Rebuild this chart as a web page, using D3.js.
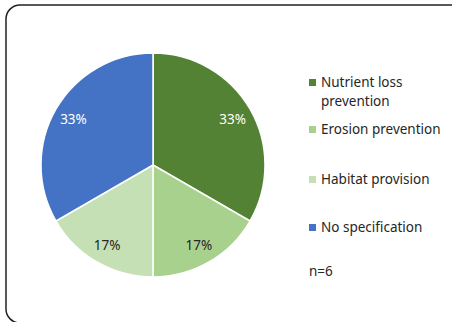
<!DOCTYPE html>
<html><head><meta charset="utf-8">
<script src="https://cdn.jsdelivr.net/npm/d3@7"></script>
<style>body{margin:0;background:#fff;}svg{display:block;}</style>
</head><body>
<script>
const categories = ["Nutrient loss prevention", "Erosion prevention", "Habitat provision", "No specification"];
const values = [2, 1, 1, 2];
const labels = ["33%", "17%", "17%", "33%"];
const colors = ["#548235", "#A9D18E", "#C5E0B4", "#4472C4"];
const labelColors = ["#ffffff", "#262626", "#262626", "#ffffff"];
const legendLines = [["Nutrient loss", "prevention"], ["Erosion prevention"], ["Habitat provision"], ["No specification"]];
const note = "n=6";

const W = 452, H = 322;
const svg = d3.select("body").append("svg").attr("width", W).attr("height", H);
svg.append("rect").attr("x", 6).attr("y", 5).attr("width", 460).attr("height", 318)
  .attr("rx", 14).attr("fill", "#fff").attr("stroke", "#222").attr("stroke-width", 1.5);

const cx = 153, cy = 165, R = 112;
const pie = d3.pie().sort(null).value(d => d);
const arcs = pie(values);
const arc = d3.arc().innerRadius(0).outerRadius(R);
const labelArc = d3.arc().innerRadius(R * 0.82).outerRadius(R * 0.82);
const g = svg.append("g").attr("transform", `translate(${cx},${cy})`);
g.selectAll("path").data(arcs).join("path").attr("d", arc)
  .attr("fill", (d, i) => colors[i]).attr("stroke", "#fff").attr("stroke-width", 1.5);
g.selectAll("text").data(arcs).join("text")
  .attr("x", d => labelArc.centroid(d)[0]).attr("y", d => labelArc.centroid(d)[1])
  .attr("text-anchor", "middle").attr("dominant-baseline", "central")
  .attr("font-family", "Noto Sans").attr("font-size", 13.5)
  .attr("fill", (d, i) => labelColors[i]).text((d, i) => labels[i]);

const legY = [79, 126, 176, 224];
const lg = svg.append("g");
categories.forEach((c, i) => {
  lg.append("rect").attr("x", 309).attr("y", legY[i]).attr("width", 7).attr("height", 7).attr("fill", colors[i]);
  legendLines[i].forEach((t, j) => {
    lg.append("text").attr("x", 321).attr("y", legY[i] + 8 + j * 19)
      .attr("font-family", "Noto Sans").attr("font-size", 13.5).attr("fill", "#262626").text(t);
  });
});
lg.append("text").attr("x", 309).attr("y", 276).attr("font-family", "Noto Sans").attr("font-size", 13.5).attr("fill", "#262626").text(note);
</script>
</body></html>
